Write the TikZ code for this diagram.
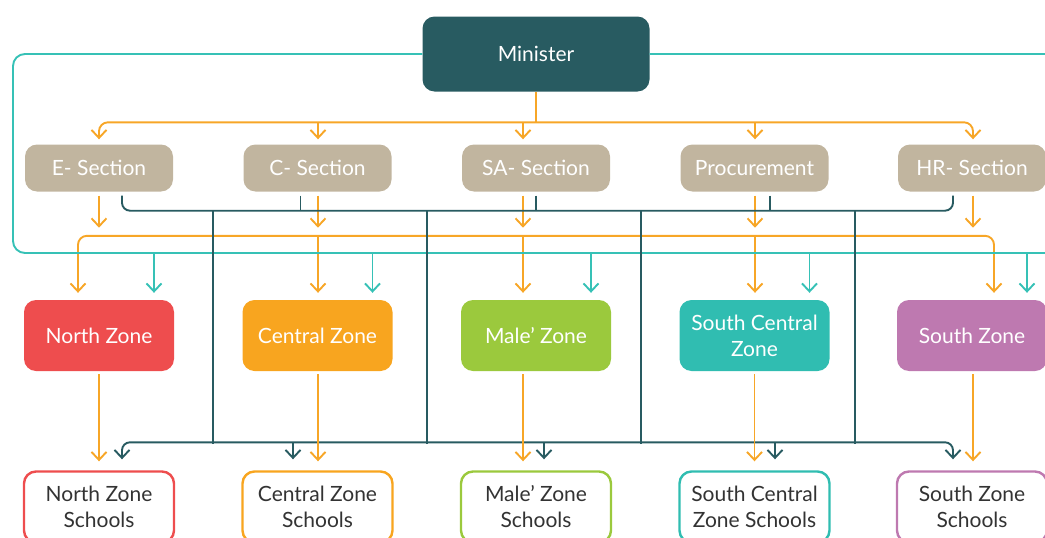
\documentclass[tikz,border=0pt]{standalone}
\usepackage{fontspec}
\setmainfont{Lato}
\usetikzlibrary{arrows.meta}
\definecolor{boss}{HTML}{285B61}
\definecolor{sectc}{HTML}{C1B59F}
\definecolor{linkor}{HTML}{F7A627}
\definecolor{linktl}{HTML}{36C1B6}
\definecolor{txtc}{HTML}{333333}
\definecolor{zn1}{HTML}{EE4D4E}
\definecolor{zn2}{HTML}{F8A51F}
\definecolor{zn3}{HTML}{9BC93D}
\definecolor{zn4}{HTML}{30BDB1}
\definecolor{zn5}{HTML}{BE79B0}

\begin{document}
\begin{tikzpicture}[x=1pt, y=-1pt,
  box/.style={rounded corners=12pt, inner sep=0pt, align=center,
              font=\fontsize{21}{26}\selectfont},
  mst/.style={box, fill=boss, text=white, minimum width=227pt, minimum height=75pt},
  sect/.style={box, fill=sectc, text=white, minimum width=148pt, minimum height=47pt},
  zone/.style={box, text=white, minimum width=150pt, minimum height=71pt},
  school/.style={box, draw, line width=2.4pt, fill=white, text=txtc,
                 minimum width=150pt, minimum height=71pt},
  ora/.style={draw=linkor, line width=1.9pt},
  tl/.style={draw=linktl, line width=1.9pt},
  dk/.style={draw=boss, line width=1.9pt},
  >={Straight Barb[length=8pt,width=15pt]}
]
\useasboundingbox (0,0) rectangle (1045,538);
\clip (0,0) rectangle (1045,538);

\node[mst] (min) at (536,54) {Minister};
\foreach \n/\x/\txt in {1/99/E- Section, 2/317.5/C- Section, 3/536/SA- Section,
                        4/754.5/Procurement, 5/972/HR- Section}
  \node[sect] (sec\n) at (\x,168) {\txt};
\foreach \n/\x/\txt in {1/99/North Zone, 2/317.5/Central Zone, 3/536/Male’ Zone,
                        4/754.5/South Central\\Zone, 5/972/South Zone}
  \node[zone, fill=zn\n] (z\n) at (\x,335.5) {\txt};
\foreach \n/\x/\txt in {1/99/North Zone\\Schools, 2/317.5/Central Zone\\Schools,
                        3/536/Male’ Zone\\Schools, 4/754.5/South Central\\Zone Schools,
                        5/972/South Zone\\Schools}
  \node[school, draw=zn\n] (s\n) at (\x,507) {\txt};

% minister -> sections
\draw[ora] (min.south) -- ++(0,30);
\draw[ora, <->, rounded corners=9pt] ([yshift=5pt]sec1.north) -- ([yshift=22pt]sec1.north)
  -- ([xshift=1pt,yshift=22pt]sec5.north) -- ([xshift=1pt,yshift=5pt]sec5.north);
\foreach \n/\dx in {2/0.5,3/-13,4/0.5}
  \draw[ora, ->] ([xshift=\dx pt,yshift=22pt]sec\n.north) -- ([xshift=\dx pt,yshift=5pt]sec\n.north);

% sections -> zones
\foreach \n/\dx in {1/0,2/0.5,3/-13,4/0.5,5/1}
  \draw[ora, ->] ([xshift=\dx pt,yshift=-4pt]sec\n.south) -- ([xshift=\dx pt,yshift=-36pt]sec\n.south);
\draw[ora, <->, rounded corners=9pt] ([xshift=-21pt,yshift=7pt]z1.north) -- ([xshift=-21pt,yshift=64pt]z1.north)
  -- ([xshift=22pt,yshift=64pt]z5.north) -- ([xshift=22pt,yshift=7pt]z5.north);
\foreach \n/\dx in {2/0.5,3/-13,4/0.5}
  \draw[ora, ->] ([xshift=\dx pt,yshift=64pt]z\n.north) -- ([xshift=\dx pt,yshift=7pt]z\n.north);

% minister loop -> zones
\draw[tl, rounded corners=12pt] (min.west) -- (13,54) -- (13,253) -- (1080,253) -- (1080,54) -- (min.east);
\foreach \n in {1,...,5}
  \draw[tl, ->] ([xshift=55pt,yshift=47pt]z\n.north) -- ([xshift=55pt,yshift=7pt]z\n.north);

% sections -> schools
\draw[dk, rounded corners=8pt] ([xshift=23pt,yshift=-4pt]sec1.south) -- ([xshift=23pt,yshift=-19pt]sec1.south)
  -- ([xshift=-19pt,yshift=-19pt]sec5.south) -- ([xshift=-19pt,yshift=-4pt]sec5.south);
\foreach \n/\dx in {2/-17,3/0,4/15.5}
  \draw[dk] ([xshift=\dx pt,yshift=-4pt]sec\n.south) -- ++(0,15);
\foreach \x in {213,427,641,855}
  \draw[dk] (\x,210.5) -- (\x,443.5);
\draw[dk, <->, rounded corners=8pt] ([xshift=23pt,yshift=11pt]s1.north) -- ([xshift=23pt,yshift=28pt]s1.north)
  -- ([xshift=-19pt,yshift=28pt]s5.north) -- ([xshift=-19pt,yshift=11pt]s5.north);
\foreach \n/\dx in {2/-24.5,3/8,4/20.5}
  \draw[dk, ->] ([xshift=\dx pt,yshift=28pt]s\n.north) -- ([xshift=\dx pt,yshift=11pt]s\n.north);

% zones -> schools
\foreach \n/\dx in {1/0,2/0.5,3/-13,4/0,5/1}
  \draw[ora, ->] ([xshift=\dx pt,yshift=-3pt]z\n.south) -- ([xshift=\dx pt,yshift=9pt]s\n.north);
\end{tikzpicture}
\end{document}
